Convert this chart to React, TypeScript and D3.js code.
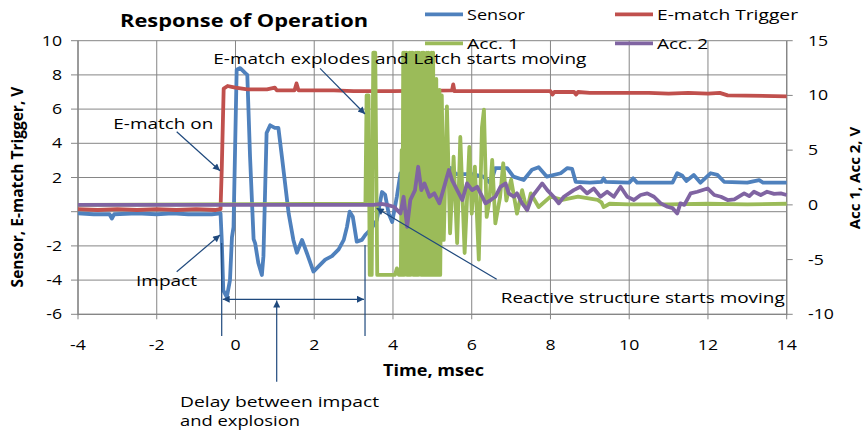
import React from 'react';
import * as d3 from 'd3';

const W = 864;
const H = 430;
const FONT = "'Open Sans', 'Liberation Sans', sans-serif";

const xTicks = [-4, -2, 0, 2, 4, 6, 8, 10, 12, 14];
const leftTicks = [-6, -4, -2, 0, 2, 4, 6, 8, 10];
const leftTickLabels = ['-6', '-4', '-2', '', '2', '4', '6', '8', '10'];
const rightTicks = [-10, -5, 0, 5, 10, 15];
const rightTickLabels = ['-10', '-5', '0', '5', '10', '15'];

const seriesNames = ['Sensor', 'E-match Trigger', 'Acc. 1', 'Acc. 2'];
const seriesColors = ['#4F81BD', '#C0504D', '#9BBB59', '#8064A2'];

// Sensor (left axis)
const sensor: [number, number][] = [
  [-4, -0.1], [-3.6, -0.15], [-3.2, -0.15], [-3.14, -0.4], [-3.08, -0.15], [-2.5, -0.1], [-2.0, -0.15],
  [-1.6, -0.1], [-1.2, -0.15], [-0.6, -0.15], [-0.38, -0.1], [-0.35, -1.6], [-0.31, -4.6], [-0.22, -5.0],
  [-0.14, -4.0], [-0.09, -1.5], [-0.05, -0.9], [0.03, 8.3], [0.12, 8.4], [0.25, 8.1], [0.3, 8.0], [0.37, 3.2],
  [0.46, -1.6], [0.5, -1.85], [0.58, -3.0], [0.67, -3.7], [0.71, -2.6], [0.79, 4.6], [0.88, 5.05], [1.0, 4.9],
  [1.09, 4.9], [1.18, 3.2], [1.35, -0.1], [1.47, -1.65], [1.56, -2.4], [1.69, -1.65], [1.81, -2.4], [1.98, -3.5],
  [2.11, -3.2], [2.28, -2.8], [2.45, -2.6], [2.62, -2.2], [2.75, -1.65], [2.83, -0.9], [2.9, 0.0], [2.98, -0.3],
  [3.08, -1.75], [3.21, -1.65], [3.3, -1.35], [3.45, -1.0], [3.59, -0.5], [3.72, 1.15], [3.8, 1.0], [3.89, -0.1],
  [3.98, -0.6], [4.1, 0.9], [4.19, 2.25], [4.6, 2.2], [5.0, 2.25], [5.3, 2.1], [5.46, 2.55], [5.6, 2.2],
  [6.0, 2.2], [6.3, 2.05], [6.48, 1.65], [6.6, 2.55], [6.9, 2.55], [7.06, 2.05], [7.32, 1.85], [7.53, 2.45],
  [7.7, 2.6], [7.91, 2.05], [8.26, 2.25], [8.43, 2.55], [8.55, 2.5], [8.64, 1.75], [9.0, 1.7], [9.3, 1.75],
  [9.35, 1.95], [9.4, 1.75], [10.0, 1.7], [10.1, 1.95], [10.2, 1.7], [11.1, 1.7], [11.22, 2.25], [11.35, 2.1],
  [11.45, 1.8], [11.64, 2.15], [11.81, 1.7], [12.07, 2.25], [12.24, 2.15], [12.41, 1.75], [13.0, 1.7],
  [13.3, 1.85], [13.4, 1.7], [14, 1.7],
];

// E-match Trigger (left axis)
const trigger: [number, number][] = [
  [-4, 0.15], [-3.5, 0.1], [-3, 0.15], [-2.5, 0.1], [-2, 0.15], [-1.5, 0.1], [-1, 0.15], [-0.5, 0.1],
  [-0.38, 0.15], [-0.35, 2.4], [-0.3, 7.2], [-0.2, 7.35], [-0.1, 7.3], [0, 7.25], [0.3, 7.15], [0.8, 7.15],
  [1.0, 7.25], [1.05, 7.1], [1.5, 7.1], [1.55, 7.5], [1.6, 7.1], [2.5, 7.1], [3.0, 7.05], [4.0, 7.05],
  [5.5, 7.1], [5.53, 7.45], [5.56, 7.05], [8.0, 7.05], [8.05, 6.85], [8.1, 7.0], [8.6, 7.0], [8.65, 6.85],
  [8.7, 7.0], [9.0, 6.95], [10.5, 6.95], [11.0, 6.9], [11.5, 6.95], [12.0, 6.9], [12.3, 6.95], [12.5, 6.8],
  [14, 6.75],
];

// Acc. 1 (right axis)
const acc1: [number, number][] = [
  [-4, 0], [3.3, 0.1], [3.33, 10], [3.38, 10], [3.41, -6.4], [3.46, -6.4], [3.5, 13.9], [3.55, 13.9],
  [3.6, -6.4], [4.05, -6.4], [4.1, -5.8], [4.15, -6.4], [4.2, -6.4], [4.22, 5], [4.24, -6.4], [4.26, 13.9],
  [4.28, -6.4], [4.3, 13.9], [4.32, -6.0], [4.34, 13.9], [4.36, -6.4], [4.38, 12], [4.4, -6.4], [4.42, 13.9],
  [4.44, -6.4], [4.46, 13.9], [4.48, -5.5], [4.5, 13.9], [4.52, -6.4], [4.54, 11], [4.56, -6.4], [4.58, 13.9],
  [4.6, -6.4], [4.62, 13.9], [4.64, -6.4], [4.66, 13.9], [4.68, -6.0], [4.7, 12.5], [4.72, -6.4], [4.74, 13.9],
  [4.76, -6.4], [4.78, 13.9], [4.8, -6.4], [4.82, 13], [4.84, -6.4], [4.86, 13.9], [4.88, -6.4], [4.9, 13.9],
  [4.92, -6.4], [4.94, 11], [4.96, -6.4], [4.98, 13.9], [5.0, -6.4], [5.02, 13.9], [5.04, -6.4], [5.06, 10.5],
  [5.08, -6.4], [5.1, 11.5], [5.12, -6.4], [5.14, 10], [5.16, -6.4], [5.18, 10.5], [5.2, -6.4], [5.24, 10.0],
  [5.29, -3.2], [5.37, 9.0], [5.45, -2.6], [5.54, 4.4], [5.63, -3.5], [5.71, 6.2], [5.82, -4.4], [5.94, 5.3],
  [6.0, -0.8], [6.08, 3.5], [6.18, -5.0], [6.26, 7.1], [6.31, 8.7], [6.38, -1.1], [6.45, 0.4], [6.52, 4.1],
  [6.6, -1.7], [6.72, 0.7], [6.8, 3.8], [6.88, 0.4], [7.0, 2.3], [7.15, -0.8], [7.28, 1.35], [7.4, -0.5],
  [7.5, 1.05], [7.7, -0.2], [8.0, 0.75], [8.3, 0.45], [8.7, 0.75], [9.2, 0.45], [9.3, 0.2], [9.35, -0.2],
  [9.5, 0.1], [10, 0.05], [11, 0.05], [12, 0.1], [13, 0.05], [14, 0.1],
];

// Acc. 2 (right axis)
const acc2: [number, number][] = [
  [-4, 0], [3.5, 0], [3.7, 0.1], [3.85, 0.0], [4.02, -0.17], [4.19, -0.78], [4.27, 0.74], [4.36, -2.0],
  [4.44, 0.44], [4.56, 1.35], [4.64, 3.48], [4.72, 1.35], [4.8, 1.96], [4.93, 0.74], [5.05, 1.05],
  [5.18, 0.14], [5.3, 1.65], [5.42, 3.18], [5.5, 2.27], [5.63, 1.35], [5.76, 0.44], [5.88, 1.96],
  [6.01, 1.35], [6.14, 1.65], [6.27, 0.74], [6.35, 0.14], [6.48, 0.44], [6.6, 0.74], [6.73, 1.65],
  [6.86, 1.96], [6.94, 1.05], [7.07, 0.74], [7.15, 1.05], [7.28, 0.14], [7.41, -0.47], [7.53, 0.74],
  [7.66, 1.35], [7.79, 1.96], [7.92, 1.35], [8.08, 0.74], [8.21, 0.14], [8.34, 0.74], [8.59, 1.35],
  [8.76, 1.65], [8.93, 1.05], [9.1, 1.5], [9.27, 0.74], [9.44, 1.2], [9.61, 0.74], [9.78, 1.65],
  [9.95, 0.74], [10.12, 0.44], [10.29, 0.9], [10.46, 1.05], [10.63, 0.74], [10.8, 0.14], [10.97, -0.17],
  [11.1, -0.3], [11.22, -0.78], [11.3, 0.14], [11.4, 0.0], [11.56, 1.05], [11.73, 1.2], [11.99, 1.5],
  [12.16, 0.9], [12.33, 0.74], [12.5, 0.44], [12.67, 0.5], [12.92, 1.05], [13.05, 0.8], [13.17, 1.2],
  [13.34, 0.9], [13.5, 1.2], [13.68, 1.0], [13.85, 1.05], [14, 0.9],
];

const x = d3.scaleLinear().domain([-4, 14]).range([78, 786.7]);
const yL = d3.scaleLinear().domain([-6, 10]).range([314.3, 40.7]);
const yR = d3.scaleLinear().domain([-10, 15]).range([314.3, 40.7]);

const lineL = d3.line<[number, number]>().x(d => x(d[0])).y(d => yL(d[1]));
const lineR = d3.line<[number, number]>().x(d => x(d[0])).y(d => yR(d[1]));

const GRID = '#868686';
const ARROW = '#1F497D';
const LW = 3.8;

function HText(props: any) {
  const { x: px, y: py, anchor = 'start', size = 15, weight = 'normal', sx = 1, len, children } = props;
  return (
    <text
      transform={`translate(${px},${py}) scale(${sx},1)`}
      textAnchor={anchor}
      fontSize={size}
      fontWeight={weight}
      fontFamily={FONT}
      fill="#000"
      textLength={len}
      lengthAdjust={len ? 'spacingAndGlyphs' : undefined}
    >
      {children}
    </text>
  );
}

export default function App() {
  const [x0, x1] = x.range();
  const [yb, yt] = yL.range();
  const impactT = -0.35;
  const explodeT = 3.29;
  const legendRows = [
    { name: seriesNames[0], color: seriesColors[0], lx: 425, ly: 14.3, len: 58 },
    { name: seriesNames[1], color: seriesColors[1], lx: 615, ly: 14.3, len: 141 },
    { name: seriesNames[2], color: seriesColors[2], lx: 425, ly: 43.3, len: 52 },
    { name: seriesNames[3], color: seriesColors[3], lx: 615, ly: 43.3, len: 51 },
  ];
  return (
    <svg width={W} height={H} style={{ position: 'absolute', left: 0, top: 0, background: '#fff' }}>
      <defs>
        <marker id="ah" viewBox="0 0 10 10" refX="10" refY="5" markerWidth="9" markerHeight="7"
          markerUnits="userSpaceOnUse" orient="auto-start-reverse">
          <path d="M0,0 L10,5 L0,10 z" fill={ARROW} />
        </marker>
      </defs>
      <rect x={0} y={0} width={W} height={H} fill="#fff" />
      {/* gridlines */}
      {leftTicks.map(t => (
        <line key={'hg' + t} x1={x0} x2={x1} y1={yL(t)} y2={yL(t)} stroke={GRID} strokeWidth={1} />
      ))}
      {xTicks.map(t => (
        <line key={'vg' + t} x1={x(t)} x2={x(t)} y1={yt} y2={yb} stroke={GRID} strokeWidth={1} />
      ))}
      {/* axes */}
      <line x1={x0} x2={x0} y1={yt} y2={yb + 1} stroke={GRID} strokeWidth={1.3} />
      <line x1={x1} x2={x1} y1={yt} y2={yb + 1} stroke={GRID} strokeWidth={1.3} />
      <line x1={x0} x2={x1} y1={yb} y2={yb} stroke={GRID} strokeWidth={1.3} />
      {leftTicks.map(t => (
        <line key={'lt' + t} x1={x0 - 7} x2={x0} y1={yL(t)} y2={yL(t)} stroke={GRID} strokeWidth={1} />
      ))}
      {rightTicks.map(t => (
        <line key={'rt' + t} x1={x1} x2={x1 + 6} y1={yR(t)} y2={yR(t)} stroke={GRID} strokeWidth={1} />
      ))}
      {xTicks.map(t => (
        <line key={'xt' + t} x1={x(t)} x2={x(t)} y1={yb} y2={yb + 5} stroke={GRID} strokeWidth={1} />
      ))}
      {/* tick labels */}
      {leftTicks.map((t, i) => (
        <HText key={'ll' + t} x={62} y={yL(t) + 5} anchor="end" size={14.5} sx={1.22}>{leftTickLabels[i]}</HText>
      ))}
      {rightTicks.map((t, i) => (
        <HText key={'rl' + t} x={808} y={yR(t) + 5} anchor="start" size={14.5} sx={1.22}>{rightTickLabels[i]}</HText>
      ))}
      {xTicks.map(t => (
        <HText key={'xl' + t} x={x(t)} y={350} anchor="middle" size={14.5} sx={1.22}>{String(t)}</HText>
      ))}
      {/* axis titles */}
      <HText x={383} y={376} size={16} weight="bold" len={101}>Time, msec</HText>
      <text transform={`translate(23,187) rotate(-90)`} textAnchor="middle" fontSize={15.5} fontWeight="bold"
        fontFamily={FONT} fill="#000">Sensor, E-match Trigger, V</text>
      <text transform={`translate(860,178) rotate(-90)`} textAnchor="middle" fontSize={15} fontWeight="bold"
        fontFamily={FONT} fill="#000">Acc 1, Acc 2, V</text>
      {/* title */}
      <HText x={120} y={26.7} size={17} weight="bold" len={248}>Response of Operation</HText>
      {/* series */}
      <path d={lineL(sensor) || ''} fill="none" stroke={seriesColors[0]} strokeWidth={LW} strokeLinejoin="round" />
      <path d={lineL(trigger) || ''} fill="none" stroke={seriesColors[1]} strokeWidth={LW} strokeLinejoin="round" />
      <path d={lineR(acc1) || ''} fill="none" stroke={seriesColors[2]} strokeWidth={LW} strokeLinejoin="round" />
      <path d={lineR(acc2) || ''} fill="none" stroke={seriesColors[3]} strokeWidth={LW} strokeLinejoin="round" />
      {/* legend */}
      {legendRows.map(r => (
        <g key={r.name}>
          <line x1={r.lx} x2={r.lx + 38} y1={r.ly} y2={r.ly} stroke={r.color} strokeWidth={LW} />
          <HText x={r.lx + 42} y={r.ly + 6} size={15} len={r.len}>{r.name}</HText>
        </g>
      ))}
      {/* annotations */}
      <HText x={213.3} y={64} size={15} len={373}>E-match explodes and Latch starts moving</HText>
      <line x1={320} y1={68.3} x2={365} y2={114} stroke={ARROW} strokeWidth={1.2} markerEnd="url(#ah)" />
      <HText x={113.3} y={129} size={15} len={100}>E-match on</HText>
      <line x1={176.7} y1={131.7} x2={220} y2={170.7} stroke={ARROW} strokeWidth={1.2} markerEnd="url(#ah)" />
      <HText x={136} y={285.7} size={15} len={61}>Impact</HText>
      <line x1={176.7} y1={271.7} x2={220} y2={235} stroke={ARROW} strokeWidth={1.2} markerEnd="url(#ah)" />
      <HText x={500.7} y={303} size={14} len={284}>Reactive structure starts moving</HText>
      <line x1={496.7} y1={279.3} x2={376.7} y2={208.3} stroke={ARROW} strokeWidth={1.2} markerEnd="url(#ah)" />
      <line x1={x(impactT)} x2={x(impactT)} y1={243} y2={336} stroke={ARROW} strokeWidth={1.2} />
      <line x1={x(explodeT)} x2={x(explodeT)} y1={245} y2={336} stroke={ARROW} strokeWidth={1.2} />
      <line x1={x(impactT) + 1} x2={x(explodeT) - 1} y1={299.3} y2={299.3} stroke={ARROW} strokeWidth={1.2}
        markerStart="url(#ah)" markerEnd="url(#ah)" />
      <line x1={276.7} x2={276.7} y1={381.7} y2={300.5} stroke={ARROW} strokeWidth={1.2} markerEnd="url(#ah)" />
      <HText x={180} y={406.7} size={14} len={199}>Delay between impact</HText>
      <HText x={180} y={426} size={14} len={120}>and explosion</HText>
    </svg>
  );
}
